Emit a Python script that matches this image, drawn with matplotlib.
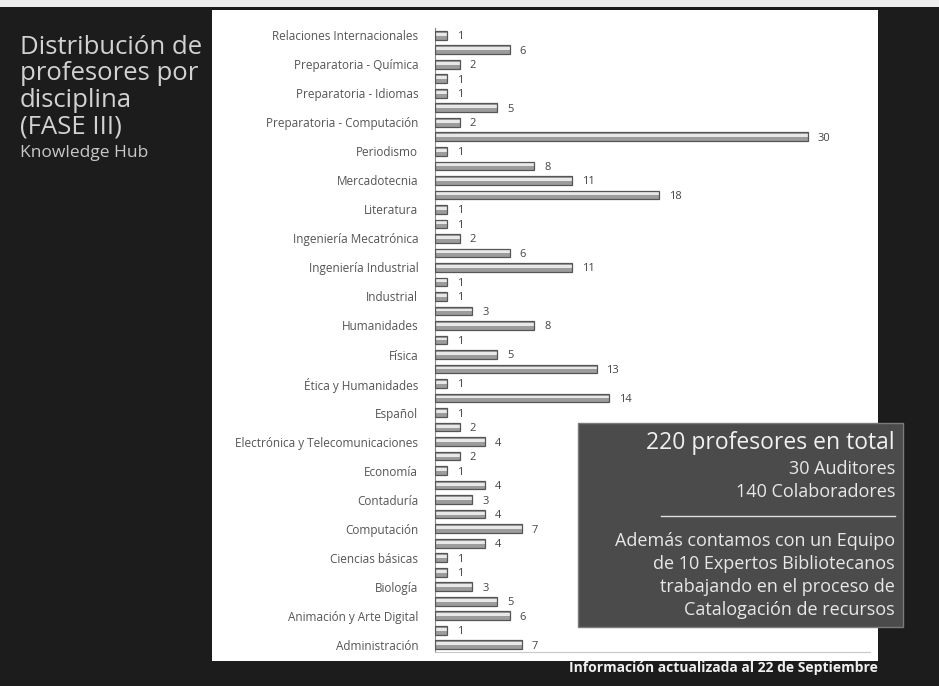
import numpy as np
import matplotlib.pyplot as plt
from matplotlib.patches import Rectangle

W, H = 939, 686

# profesores por disciplina (de arriba hacia abajo, como en la diapositiva)
valores = [1, 6, 2, 1, 1, 5, 2, 30, 1, 8, 11, 18, 1, 1, 2, 6, 11, 1, 1, 3, 8, 1,
           5, 13, 1, 14, 1, 2, 4, 2, 1, 4, 3, 4, 7, 4, 1, 1, 3, 5, 6, 1, 7]
# solo se ve una etiqueta de cada dos
etiquetas = ["Relaciones Internacionales", "Preparatoria - Química", "Preparatoria - Idiomas",
             "Preparatoria - Computación", "Periodismo", "Mercadotecnia", "Literatura",
             "Ingeniería Mecatrónica", "Ingeniería Industrial", "Industrial", "Humanidades",
             "Física", "Ética y Humanidades", "Español", "Electrónica y Telecomunicaciones",
             "Economía", "Contaduría", "Computación", "Ciencias básicas", "Biología",
             "Animación y Arte Digital", "Administración"]

titulo = ["Distribución de", "profesores por", "disciplina", "(FASE III)"]
resumen = ["220 profesores en total", "30 Auditores", "140 Colaboradores"]
extra = ["Además contamos con un Equipo", "de 10 Expertos Bibliotecanos",
         "trabajando en el proceso de", "Catalogación de recursos"]
nota = "Información actualizada al 22 de Septiembre"


def fx(x):
    return x / W


def fy(y):
    return 1 - y / H


plt.rcParams['font.family'] = ['Open Sans', 'DejaVu Sans']

fig = plt.figure(figsize=(W / 100, H / 100), dpi=100, facecolor='#1c1c1c')

# franja clara arriba y panel blanco (detras del grafico)
fig.patches.append(Rectangle((0, fy(7)), 1, 7 / H, transform=fig.transFigure,
                             facecolor='#ededed', edgecolor='none', zorder=-5))
fig.patches.append(Rectangle((fx(212), fy(661)), fx(878 - 212), (661 - 10) / H,
                             transform=fig.transFigure, facecolor='white',
                             edgecolor='none', zorder=-5))

# grafico de barras
n = len(valores)
pos = np.arange(n)[::-1]
ax = fig.add_axes([fx(435), fy(652), fx(870 - 435), (652 - 28) / H])
ax.set_facecolor('none')

ax.barh(pos, valores, height=0.6, color='#9c9c9c', edgecolor='none', zorder=2)
ax.barh(pos + 0.07, valores, height=0.2, color='#e8e8e8', edgecolor='none', zorder=3)
ax.barh(pos, valores, height=0.6, facecolor='none', edgecolor='#555555', linewidth=0.9, zorder=4)

for p, v in zip(pos, valores):
    ax.text(v + 0.8, p - 0.1, str(v), va='center', ha='left', fontsize=8, color='#444444')

ax.set_xlim(0, 35)
ax.set_ylim(-0.5, n - 0.5)
ax.set_xticks([])
ax.set_yticks(pos[::2])
ax.set_yticklabels(etiquetas, fontsize=8.5, color='#555555')
ax.tick_params(axis='y', length=0, pad=12)
ax.spines['top'].set_visible(False)
ax.spines['right'].set_visible(False)
ax.spines['left'].set_color('#8a8a8a')
ax.spines['bottom'].set_color('#c8c8c8')

# titulo a la izquierda
for i, t in enumerate(titulo):
    fig.text(fx(20), fy(47 + i * 26.7), t, fontsize=18.5, color='#d2d2d2',
             va='center', ha='left')
fig.text(fx(20), fy(153), "Knowledge Hub", fontsize=12.5, color='#c8c8c8',
         va='center', ha='left')

# recuadro de resumen
fig.patches.append(Rectangle((fx(578), fy(627)), fx(903 - 578), (627 - 423) / H,
                             transform=fig.transFigure, facecolor='#4b4b4b',
                             edgecolor='#7a7a7a', linewidth=1, zorder=5))
fig.text(fx(895), fy(443), resumen[0], fontsize=16.5, color='#f0f0f0',
         va='center', ha='right', zorder=6)
fig.text(fx(895), fy(469), resumen[1], fontsize=13, color='#e8e8e8',
         va='center', ha='right', zorder=6)
fig.text(fx(895), fy(492), resumen[2], fontsize=13, color='#e8e8e8',
         va='center', ha='right', zorder=6)
fig.lines.append(plt.Line2D([fx(661), fx(895)], [fy(516), fy(516)], transform=fig.transFigure,
                            color='#e0e0e0', linewidth=1, zorder=6))
for i, t in enumerate(extra):
    fig.text(fx(895), fy(541 + i * 23), t, fontsize=13, color='#e8e8e8',
             va='center', ha='right', zorder=6)

# nota al pie
fig.text(fx(878), fy(668), nota, fontsize=10, color='#f0f0f0', fontweight='bold',
         va='center', ha='right')

fig.savefig('out.png', dpi=100, facecolor=fig.get_facecolor())
